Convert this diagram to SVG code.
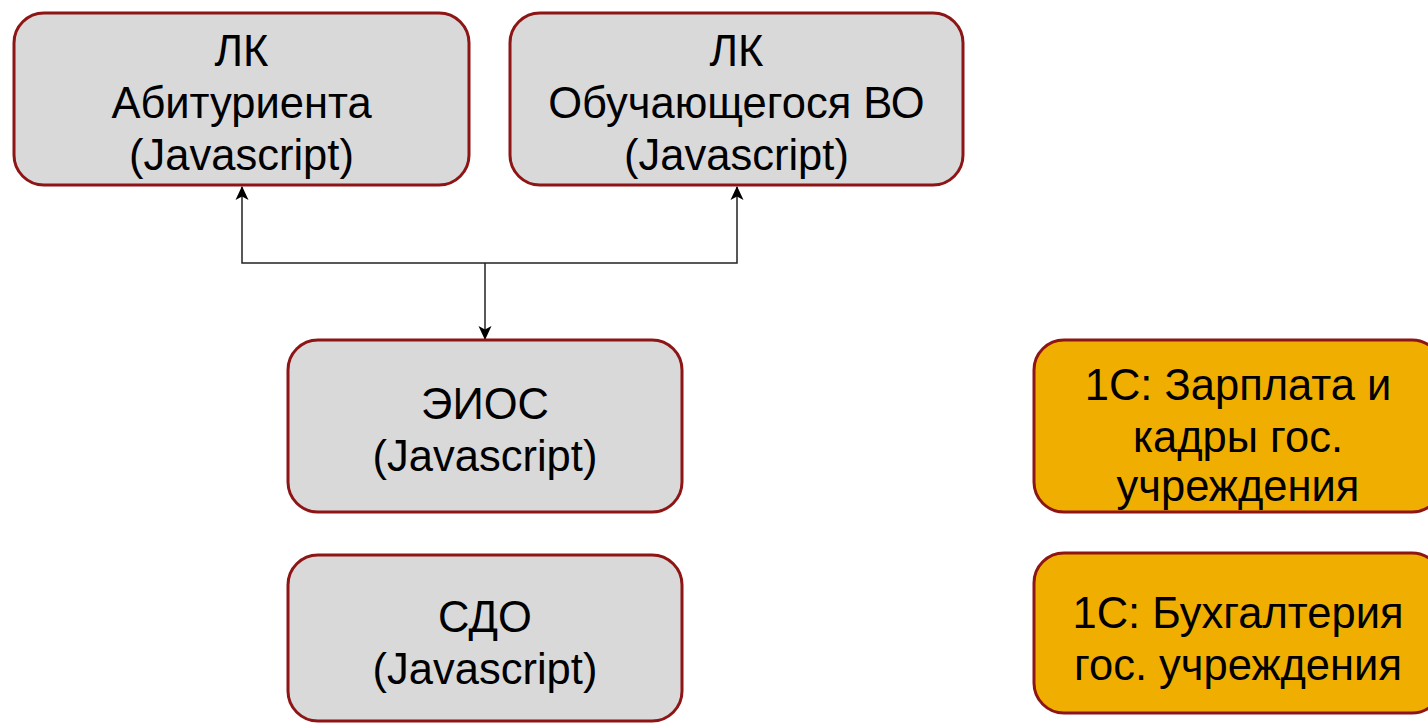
<svg xmlns="http://www.w3.org/2000/svg" width="1428" height="723" viewBox="0 0 1428 723">
<defs>
<style>
.g{fill:#d9d9d9;stroke:#8e1515;stroke-width:3}
.o{fill:#f0af00;stroke:#8e1515;stroke-width:3}
text{font-family:"Liberation Sans",Arial,Helvetica,sans-serif;font-size:43.5px;fill:#000;text-anchor:middle}
.c{fill:none;stroke:#222;stroke-width:1.5}
</style>
<marker id="ah" viewBox="0 0 14 14" refX="13" refY="7" markerWidth="14" markerHeight="14" markerUnits="userSpaceOnUse" orient="auto">
<path d="M0,0.5 L14,7 L0,13.5 L3.5,7 Z" fill="#000"/>
</marker>
</defs>
<rect width="1428" height="723" fill="#fff"/>
<g id="connectors">
<path class="c" d="M485,263 L485,339" marker-end="url(#ah)"/>
<path class="c" d="M485,263 L242,263 L242,187" marker-end="url(#ah)"/>
<path class="c" d="M485,263 L737,263 L737,187" marker-end="url(#ah)"/>
</g>
<g id="lk-abit">
<rect class="g" x="14" y="13" width="455" height="172" rx="30"/>
<text x="241.5" y="66">ЛК</text>
<text x="241.5" y="118">Абитуриента</text>
<text x="241.5" y="170">(Javascript)</text>
</g>
<g id="lk-obuch">
<rect class="g" x="510" y="13" width="453" height="172" rx="30"/>
<text x="736.5" y="66">ЛК</text>
<text x="736.5" y="118">Обучающегося ВО</text>
<text x="736.5" y="170">(Javascript)</text>
</g>
<g id="eios">
<rect class="g" x="288" y="340" width="394" height="172" rx="30"/>
<text x="485" y="419">ЭИОС</text>
<text x="485" y="471">(Javascript)</text>
</g>
<g id="sdo">
<rect class="g" x="288" y="555" width="394" height="166" rx="30"/>
<text x="485" y="632">СДО</text>
<text x="485" y="684">(Javascript)</text>
</g>
<g id="zup">
<rect class="o" x="1034" y="340" width="408" height="172" rx="30"/>
<text x="1238" y="400">1С: Зарплата и</text>
<text x="1238" y="452">кадры гос.</text>
<text x="1238" y="501">учреждения</text>
</g>
<g id="buh">
<rect class="o" x="1034" y="553" width="408" height="160" rx="30"/>
<text x="1238" y="628">1С: Бухгалтерия</text>
<text x="1238" y="680">гос. учреждения</text>
</g>
</svg>
